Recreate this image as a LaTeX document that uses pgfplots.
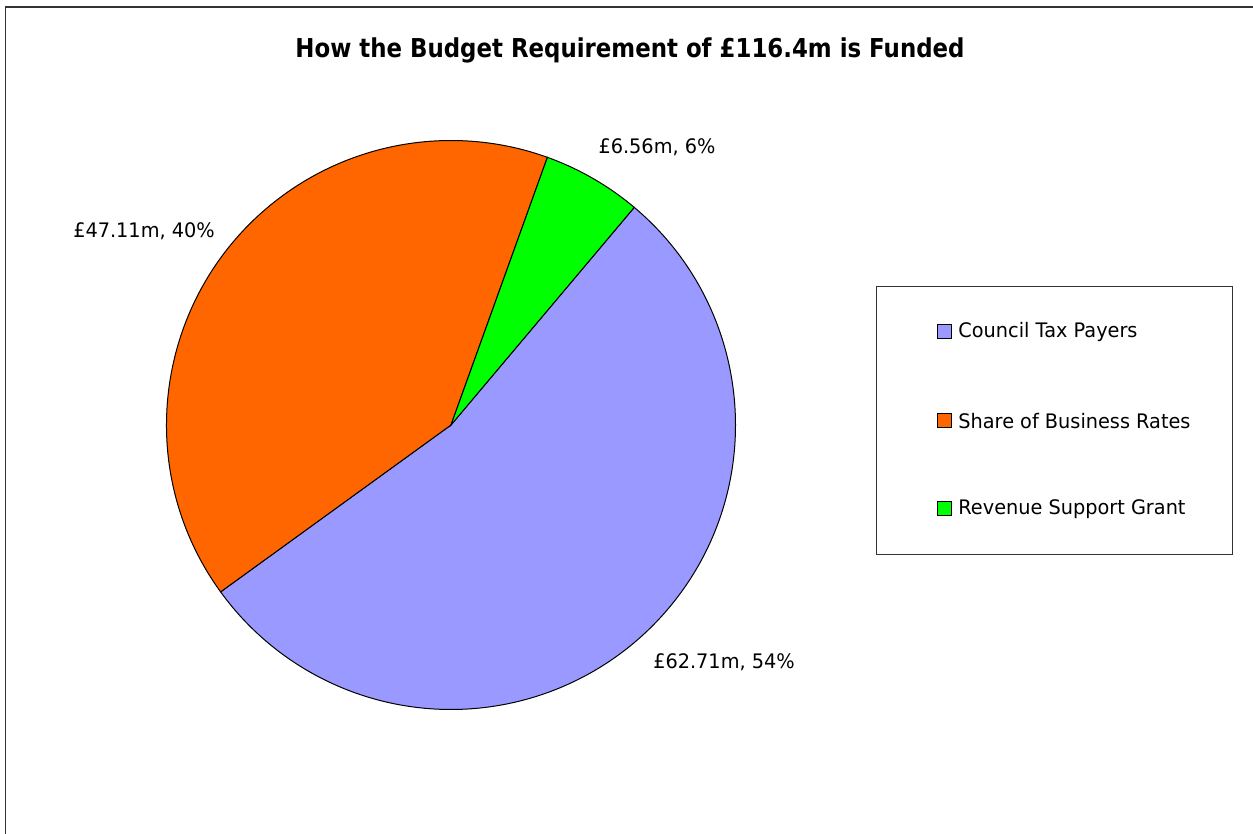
\documentclass[border=0pt]{standalone}
\usepackage{pgfplots}
\pgfplotsset{compat=1.18}
\usepackage{pgfplotstable}
\usepackage{fontspec}
\setmainfont{DejaVu Sans}[FakeStretch=0.965, BoldFeatures={FakeStretch=0.88}]
\definecolor{ctax}{HTML}{9999FF}
\definecolor{brate}{HTML}{FF6600}
\definecolor{rsg}{HTML}{00FF00}
\pgfplotstableread{
value
62.71
47.11
6.56
}\piedata
\begin{document}
\begin{tikzpicture}
\pgfplotstablegetelem{0}{value}\of\piedata \edef\vA{\pgfplotsretval}
\pgfplotstablegetelem{1}{value}\of\piedata \edef\vB{\pgfplotsretval}
\pgfplotstablegetelem{2}{value}\of\piedata \edef\vC{\pgfplotsretval}
\pgfmathsetmacro\tot{\vA+\vB+\vC}
\pgfmathsetmacro\aS{49.9}
\pgfmathsetmacro\aA{\aS-360*(\vA/\tot)}
\pgfmathsetmacro\aB{\aA-360*(\vB/\tot)}
\pgfmathsetmacro\aC{\aB-360*(\vC/\tot)}
\begin{axis}[
  width=626.5pt, height=417pt, scale only axis,
  xmin=0, xmax=1253, ymin=0, ymax=834,
  hide axis, clip=false,
]
% picture extent
\path (axis cs:0,0) rectangle (axis cs:1253,834);
% chart frame (right and bottom edges lie outside the picture)
\draw[overlay, black!80, line width=0.9pt] (axis cs:5.5,-10) -- (axis cs:5.5,827) -- (axis cs:1270,827);
% title
\node[font=\fontsize{13}{15}\selectfont\bfseries] at (axis cs:630,784) {How the Budget Requirement of £116.4m is Funded};
% pie wedges
\filldraw[fill=ctax, draw=black, line width=0.5pt] (axis cs:451,409) -- ++(\aS:142.25pt) arc[start angle=\aS, end angle=\aA, radius=142.25pt] -- cycle;
\filldraw[fill=brate, draw=black, line width=0.5pt] (axis cs:451,409) -- ++(\aA:142.25pt) arc[start angle=\aA, end angle=\aB, radius=142.25pt] -- cycle;
\filldraw[fill=rsg, draw=black, line width=0.5pt] (axis cs:451,409) -- ++(\aB:142.25pt) arc[start angle=\aB, end angle=\aC, radius=142.25pt] -- cycle;
% data labels
\node[font=\fontsize{10}{12}\selectfont] at (axis cs:657,687) {£6.56m, 6\%};
\node[font=\fontsize{10}{12}\selectfont] at (axis cs:144,603) {£47.11m, 40\%};
\node[font=\fontsize{10}{12}\selectfont] at (axis cs:724,172) {£62.71m, 54\%};
% legend
\draw[black!80, line width=0.6pt] (axis cs:876.7,279.7) rectangle (axis cs:1232.7,547.3);
\filldraw[fill=ctax, draw=black, line width=0.5pt] (axis cs:937.5,495) rectangle (axis cs:951.5,509);
\filldraw[fill=brate, draw=black, line width=0.5pt] (axis cs:937.5,406.3) rectangle (axis cs:951.5,420.3);
\filldraw[fill=rsg, draw=black, line width=0.5pt] (axis cs:937.5,318) rectangle (axis cs:951.5,332);
\node[anchor=west, inner sep=0pt, font=\fontsize{10}{12}\selectfont] at (axis cs:958,502) {Council Tax Payers};
\node[anchor=west, inner sep=0pt, font=\fontsize{10}{12}\selectfont] at (axis cs:958,413.3) {Share of Business Rates};
\node[anchor=west, inner sep=0pt, font=\fontsize{10}{12}\selectfont] at (axis cs:958,325) {Revenue Support Grant};
\end{axis}
\end{tikzpicture}
\end{document}
